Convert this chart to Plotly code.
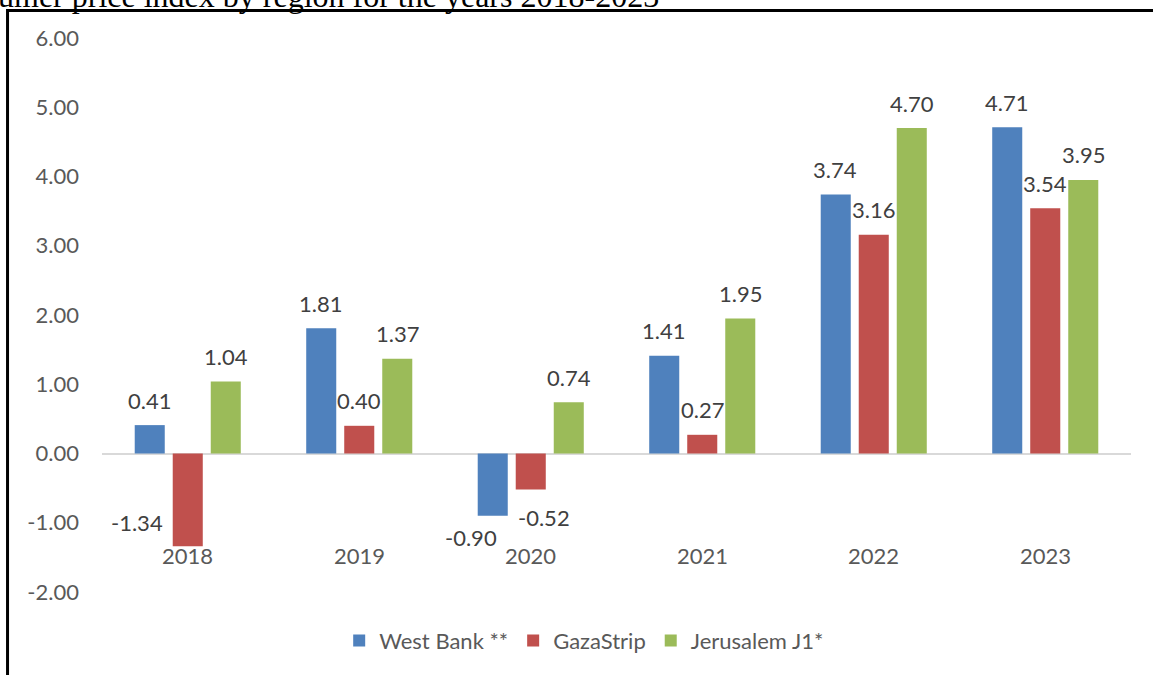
import plotly.graph_objects as go

years = ["2018", "2019", "2020", "2021", "2022", "2023"]
west_bank = [0.41, 1.81, -0.90, 1.41, 3.74, 4.71]
gaza = [-1.34, 0.40, -0.52, 0.27, 3.16, 3.54]
jerusalem = [1.04, 1.37, 0.74, 1.95, 4.70, 3.95]

series_names = ["West Bank **", "GazaStrip", "Jerusalem J1*"]
series_values = [west_bank, gaza, jerusalem]
colors = ["#4F81BD", "#C0504D", "#9BBB59"]

y_ticks = [-2, -1, 0, 1, 2, 3, 4, 5, 6]

title_text = "umer price index by region for the years 2018-2023"

FONT = "Lato"
FS = 22
LABEL_COLOR = "#404040"
TICK_COLOR = "#595959"

fig = go.Figure()
for name, vals, col in zip(series_names, series_values, colors):
    fig.add_trace(go.Bar(
        x=years, y=vals, name=name,
        marker=dict(color=col, line=dict(width=0)),
    ))

# data labels (x given as category index)
slot_px = 38.3
default_shift = 25
manual = {(0, 1): (-51, 24), (2, 0): (-21, -22), (2, 1): (13, -28)}
for si, vals in enumerate(series_values):
    for ci, v in enumerate(vals):
        dx = (si - 1) * slot_px
        dy = default_shift if v >= 0 else -default_shift
        if (ci, si) in manual:
            ddx, ddy = manual[(ci, si)]
            dx += ddx
            dy = ddy
        fig.add_annotation(
            x=ci, y=v, xref="x", yref="y",
            text=f"{v:.2f}", showarrow=False,
            xshift=dx, yshift=dy, yanchor="middle", xanchor="center",
            font=dict(family=FONT, size=FS, color=LABEL_COLOR),
        )

# category labels
for ci, yr in enumerate(years):
    fig.add_annotation(
        x=ci, y=-1.47, xref="x", yref="y", text=yr, showarrow=False,
        yanchor="middle", xanchor="center",
        font=dict(family=FONT, size=FS, color=TICK_COLOR),
    )

# title fragment (cropped at top)
fig.add_annotation(
    x=-0.1, xref="paper", xanchor="left", xshift=-3,
    y=1.0, yref="paper", yanchor="bottom", yshift=22,
    text=title_text, showarrow=False,
    font=dict(family="Liberation Serif", size=32, color="black"),
)

# outer border
fig.add_shape(type="rect", xref="paper", yref="paper",
              x0=-0.0918, x1=1.1, y0=-0.3, y1=1.0496,
              line=dict(color="black", width=3), layer="above")

fig.update_layout(
    width=1153, height=675,
    margin=dict(l=102, r=22, t=38, b=83),
    paper_bgcolor="white", plot_bgcolor="white",
    barmode="group", bargap=0.335, bargroupgap=0.21,
    showlegend=True,
    legend=dict(orientation="h", x=0.4686, xanchor="center",
                y=-0.088, yanchor="middle",
                font=dict(family=FONT, size=FS, color=TICK_COLOR)),
    xaxis=dict(type="category", range=[-0.5, 5.5], showticklabels=False,
               showgrid=False, showline=False, zeroline=False, ticks=""),
    yaxis=dict(range=[-2, 6], tickvals=y_ticks,
               ticktext=[f"{t:.2f}" for t in y_ticks], showgrid=False,
               zeroline=True, zerolinecolor="#D9D9D9", zerolinewidth=2,
               showline=False, ticks="", ticklabelstandoff=22,
               tickfont=dict(family=FONT, size=FS, color=TICK_COLOR)),
)

fig.write_html("out.html")
